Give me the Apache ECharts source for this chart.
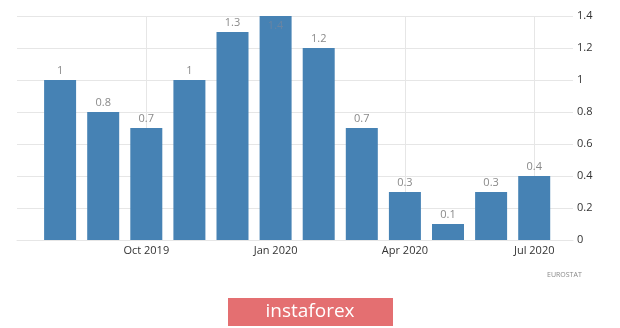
<!DOCTYPE html>
<html><head><meta charset="utf-8">
<script src="https://cdn.jsdelivr.net/npm/echarts@6/dist/echarts.min.js"></script>
<style>html,body{margin:0;padding:0;background:#fff}#c{width:620px;height:328px}</style>
</head><body><div id="c"></div>
<script>
const categories = ['Aug 2019','Sep 2019','Oct 2019','Nov 2019','Dec 2019','Jan 2020','Feb 2020','Mar 2020','Apr 2020','May 2020','Jun 2020','Jul 2020'];
const values = [1, 0.8, 0.7, 1, 1.3, 1.4, 1.2, 0.7, 0.3, 0.1, 0.3, 0.4];
const yTicks = [0, 0.2, 0.4, 0.6, 0.8, 1, 1.2, 1.4];
const shownLabels = ['Oct 2019','Jan 2020','Apr 2020','Jul 2020'];

const maxV = Math.max(...values);
const data = values.map((v, i) => ({
  value: [i, v],
  label: v === maxV ? {position: 'insideTop', color: '#6985a3'} : undefined
}));

const chart = echarts.init(document.getElementById('c'));
chart.setOption({
  animation: false,
  backgroundColor: '#fff',
  grid: {left: 17, right: 47, top: 16, bottom: 88, containLabel: false},
  xAxis: {
    type: 'value', min: -1, max: 11.9, interval: 3,
    axisLine: {show: true, lineStyle: {color: '#e6e6e6'}},
    axisTick: {show: false},
    splitLine: {show: true, showMinLine: false, showMaxLine: false, lineStyle: {color: '#e6e6e6'}},
    axisLabel: {
      color: '#333', fontSize: 11, margin: 5, fontFamily: 'Open Sans',
      formatter: v => { const c = categories[Math.round(v)]; return c && shownLabels.includes(c) ? c : ''; }
    }
  },
  yAxis: {
    type: 'value', position: 'right', min: yTicks[0], max: yTicks[yTicks.length-1], interval: 0.2,
    axisLine: {show: false}, axisTick: {show: false},
    splitLine: {lineStyle: {color: '#e6e6e6'}},
    axisLabel: {color: '#333', fontSize: 11, margin: 4, fontFamily: 'Open Sans', formatter: v => String(+v.toFixed(1))}
  },
  series: [{
    type: 'bar', data: data, barWidth: 32,
    itemStyle: {color: '#4682b4'},
    label: {show: true, position: 'top', color: '#8a8a8a', fontSize: 11, fontFamily: 'Open Sans', distance: 4,
      formatter: p => String(p.value[1])}
  }],
  graphic: [
    {type: 'text', left: 547, top: 271, style: {text: 'EUROSTAT', fill: '#888', font: '7px "Open Sans"'}},
    {type: 'rect', shape: {x: 228, y: 298, width: 165, height: 28}, style: {fill: '#e46f71'}},
    {type: 'text', x: 310, y: 312, style: {text: 'instaforex', fill: '#fff', font: '19px "Open Sans"', align: 'center', verticalAlign: 'middle'}}
  ]
});
</script></body></html>
